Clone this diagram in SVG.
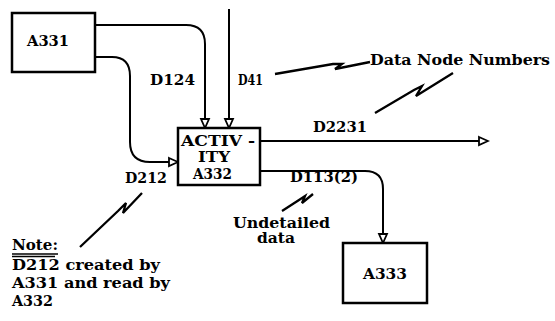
<svg xmlns="http://www.w3.org/2000/svg" width="555" height="321" viewBox="0 0 555 321">
<style>
.box{fill:#fff;stroke:#000;stroke-width:2.5}
.ln{fill:none;stroke:#000;stroke-width:2;stroke-linejoin:round}
.sq{fill:none;stroke:#000;stroke-width:2.3;stroke-linejoin:miter}
text{font-family:"DejaVu Serif","Liberation Serif",serif;font-weight:bold;font-size:14px;fill:#000}
</style>
<defs>
<marker id="arr" markerUnits="userSpaceOnUse" markerWidth="12" markerHeight="12" refX="10" refY="5" orient="auto" viewBox="0 0 12 10">
<path d="M1,1 L10,5 L1,9 Z" fill="#fff" stroke="#000" stroke-width="1.8"/>
</marker>
</defs>
<rect width="555" height="321" fill="#fff"/>
<g id="connectors">
<path id="c-d124" class="ln" d="M95,25 H186 Q205,25 205,44 V128" marker-end="url(#arr)"/>
<path id="c-d41" class="ln" d="M229,9 V128" marker-end="url(#arr)"/>
<path id="c-d212" class="ln" d="M95,57 H112 Q130,57 130,76 V142 Q130,162 150,162 H178" marker-end="url(#arr)"/>
<path id="c-d2231" class="ln" d="M260,141 H488" marker-end="url(#arr)"/>
<path id="c-d113" class="ln" d="M260,171 H365 Q383,171 383,189 V243" marker-end="url(#arr)"/>
<path class="sq" d="M275,74 L333,64 L342,64 L335,69 L370,62"/>
<path class="sq" d="M375,113 L414,90 L422,86 L416,96 L453,73"/>
<path class="sq" d="M80,247 L118,211 L126,203 L123,213 L142,193"/>
<path class="sq" d="M282,211 L299,200 L305,196 L302,203 L313,194"/>
<text x="150" y="85" textLength="45" lengthAdjust="spacingAndGlyphs">D124</text>
<text x="238" y="85" textLength="25" lengthAdjust="spacingAndGlyphs">D41</text>
<text x="370" y="65" textLength="180" lengthAdjust="spacingAndGlyphs">Data Node Numbers</text>
<text x="313" y="132" textLength="54" lengthAdjust="spacingAndGlyphs">D2231</text>
<text x="125" y="183" textLength="42" lengthAdjust="spacingAndGlyphs">D212</text>
<text x="290" y="182" textLength="68" lengthAdjust="spacingAndGlyphs">D113(2)</text>
<text x="233" y="228" textLength="97" lengthAdjust="spacingAndGlyphs">Undetailed</text>
<text x="257" y="243" textLength="38" lengthAdjust="spacingAndGlyphs">data</text>
</g>
<g id="A331">
<rect class="box" x="12" y="13" width="83" height="59"/>
<text x="27" y="46" textLength="42" lengthAdjust="spacingAndGlyphs">A331</text>
</g>
<g id="A332">
<rect class="box" x="178" y="128" width="82" height="57"/>
<text x="181" y="146" textLength="74" lengthAdjust="spacingAndGlyphs">ACTIV -</text>
<text x="198" y="162" textLength="32" lengthAdjust="spacingAndGlyphs">ITY</text>
<text x="193" y="179" textLength="39" lengthAdjust="spacingAndGlyphs">A332</text>
</g>
<g id="A333">
<rect class="box" x="343" y="243" width="84" height="60"/>
<text x="363" y="279" textLength="44" lengthAdjust="spacingAndGlyphs">A333</text>
</g>
<g id="note">
<text x="12" y="250" textLength="46" lengthAdjust="spacingAndGlyphs">Note:</text>
<line x1="12" y1="254" x2="58" y2="254" stroke="#000" stroke-width="1.3"/>
<line x1="12" y1="256.5" x2="55" y2="256.5" stroke="#000" stroke-width="1.3"/>
<text x="12" y="270" textLength="148" lengthAdjust="spacingAndGlyphs">D212 created by</text>
<text x="12" y="288" textLength="158" lengthAdjust="spacingAndGlyphs">A331 and read by</text>
<text x="12" y="306" textLength="41" lengthAdjust="spacingAndGlyphs">A332</text>
</g>
</svg>
